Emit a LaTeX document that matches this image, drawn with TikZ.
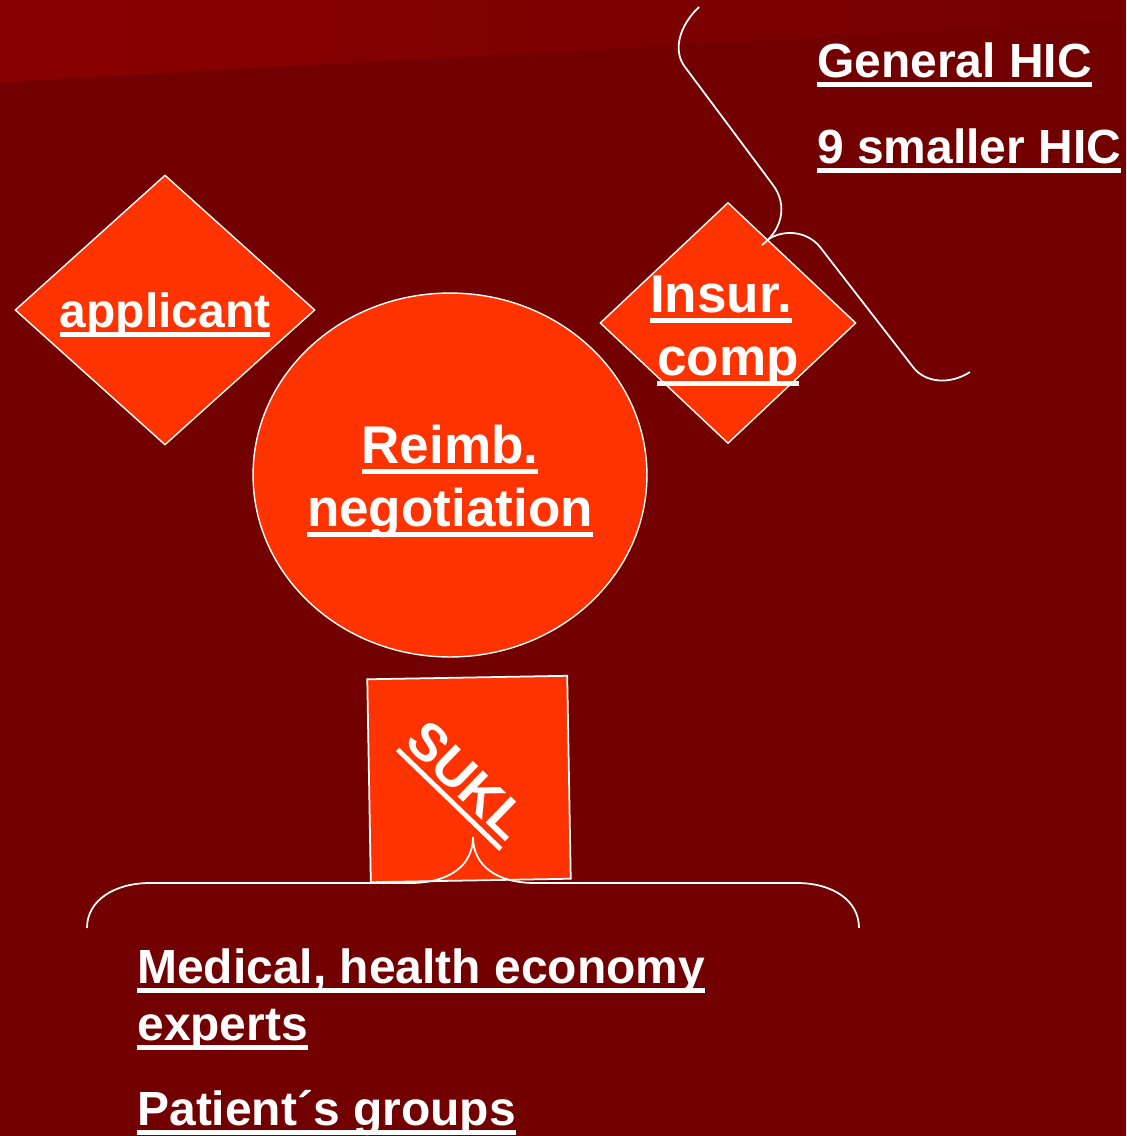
\documentclass[tikz,border=0pt]{standalone}
\usepackage{fontspec}
\setmainfont{Liberation Sans}
\usetikzlibrary{shapes.geometric}

\definecolor{slidebg}{RGB}{114,0,0}
\definecolor{slidetop}{RGB}{138,0,0}
\definecolor{slidetopend}{RGB}{116,0,0}
\definecolor{blockred}{RGB}{255,51,0}

\newcommand{\ultext}[1]{\setbox0\hbox{#1}\rlap{\rule[-0.2em]{\wd0}{0.09em}}\box0}

\begin{document}
\begin{tikzpicture}[x=0.02cm, y=-0.02cm,
    shapebox/.style={draw=white, fill=blockred, line width=0.8pt, inner sep=0pt},
    bigtext/.style={text=white, inner sep=0pt, anchor=base, font=\bfseries\fontsize{30.2}{36}\selectfont},
    listtext/.style={text=white, inner sep=0pt, anchor=base west, font=\bfseries\fontsize{27.3}{32}\selectfont},
    bracket/.style={draw=white, line width=1pt}]
    \useasboundingbox (0,0) rectangle (1126,1136);
    \fill[slidebg] (0,0) rectangle (1126,1136);
    \shade[left color=slidetop, right color=slidetopend] (0,0) -- (1126,0) -- (1126,20) -- (0,82) -- cycle;

    \node[shapebox, diamond, minimum width=6cm, minimum height=5.4cm] (applicant) at (165,310) {};
    \node[shapebox, ellipse, minimum width=7.88cm, minimum height=7.28cm] (reimb) at (450,475) {};
    \node[shapebox, diamond, minimum width=5.12cm, minimum height=4.82cm] (insur) at (728,323) {};
    \node[shapebox, line width=1pt, rotate=1, minimum width=4cm, minimum height=4.06cm] (sukl) at (469,779) {};

    \node[bigtext, font=\bfseries\fontsize{27.3}{32}\selectfont] (applicantname) at (165,327) {\ultext{applicant}};
    \node[bigtext] (reimbA) at (450,463) {\ultext{Reimb.}};
    \node[bigtext] (reimbB) at (450,526) {\ultext{negotiation}};
    \node[bigtext] (insurA) at (721,312) {\ultext{Insur.}};
    \node[bigtext] (insurB) at (728,375) {\ultext{comp}};
    \node[text=white, inner sep=0pt, rotate=-44, font=\bfseries\fontsize{30}{34}\selectfont] (suklname) at (464,784) {\ultext{SUKL}};

    \node[listtext] (general) at (817,77) {\ultext{General HIC}};
    \node[listtext] (smaller) at (817,163) {\ultext{9 smaller HIC}};
    \node[listtext] (medical) at (137,983) {\ultext{Medical, health economy}};
    \node[listtext] (experts) at (137,1040) {\ultext{experts}};
    \node[listtext] (patients) at (137,1125) {\ultext{Patient´s groups}};

    \draw[bracket] (699,7) .. controls (680,25) and (672,50) .. (685,67) -- (773,185)
        .. controls (788,205) and (782,230) .. (762,245);
    \draw[bracket] (767,240) .. controls (785,228) and (808,232) .. (820,247) -- (913,367)
        .. controls (925,383) and (950,385) .. (970,372);
    \draw[bracket] (87,928) .. controls (87,900) and (115,883) .. (150,883) -- (410,883)
        .. controls (450,883) and (473,865) .. (473,837);
    \draw[bracket] (473,837) .. controls (473,865) and (496,883) .. (535,883) -- (797,883)
        .. controls (832,883) and (859,900) .. (859,928);
\end{tikzpicture}
\end{document}
